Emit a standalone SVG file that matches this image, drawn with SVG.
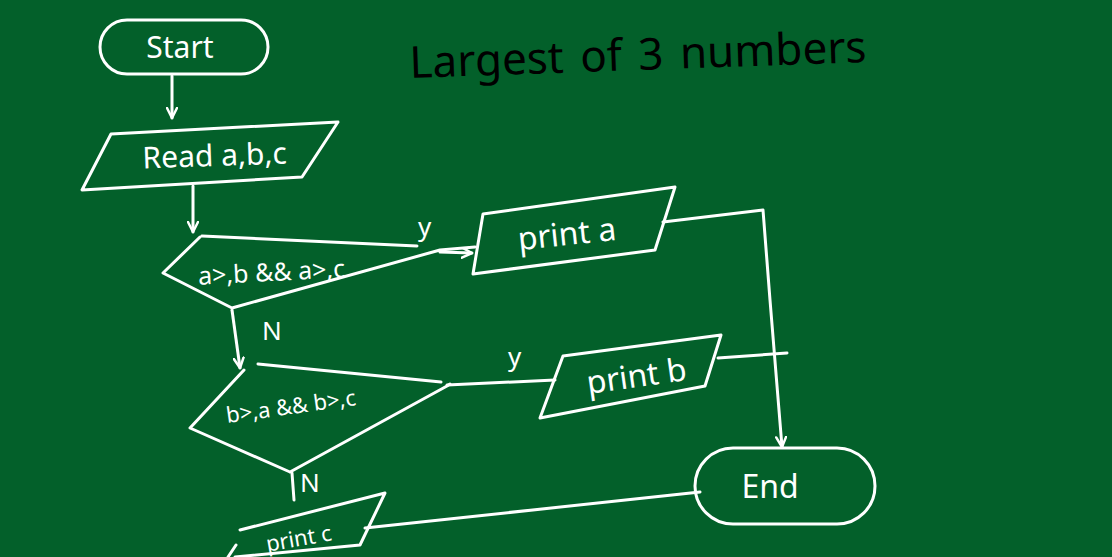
<svg xmlns="http://www.w3.org/2000/svg" width="1112" height="557" viewBox="0 0 1112 557">
<style>
.s{fill:none;stroke:#ffffff;stroke-width:3;stroke-linecap:round;stroke-linejoin:round}
.t{fill:#ffffff;font-family:"Noto Sans","Liberation Sans",sans-serif}
.lbl{fill:#ffffff;font-family:"Noto Sans","Liberation Sans",sans-serif;font-size:26px}
</style>
<defs>
<marker id="ah" viewBox="0 0 12 12" refX="11" refY="6" markerWidth="12" markerHeight="12" markerUnits="userSpaceOnUse" orient="auto">
<path d="M1,1 L11,6 L1,11" fill="none" stroke="#ffffff" stroke-width="2.5" stroke-linecap="round" stroke-linejoin="round"/>
</marker>
</defs>
<rect width="1112" height="557" fill="#03602a"/>
<g id="title">
<text x="410" y="78" font-family="Noto Sans,Liberation Sans,sans-serif" font-size="44" fill="#000000" word-spacing="5" transform="rotate(-2 410 78)">Largest of 3 numbers</text>
</g>
<g id="start">
<rect class="s" x="100" y="20" width="168" height="54" rx="27"/>
<text class="t" x="180" y="58" font-size="30" text-anchor="middle">Start</text>
</g>
<g id="read">
<path class="s" d="M111,134 L338,122 L302,177 L82,190 Z"/>
<text class="t" x="215" y="166" font-size="30" text-anchor="middle" transform="rotate(-2 215 166)">Read a,b,c</text>
</g>
<g id="dec1">
<path class="s" d="M202,236 L417,246 M200,237 L163,273 L232,308 L440,250 L475,247"/>
<text class="t" x="272" y="281" font-size="25" text-anchor="middle" transform="rotate(-3 272 281)">a&gt;,b &amp;&amp; a&gt;,c</text>
</g>
<g id="printa">
<path class="s" d="M483,214 L675,187 L655,250 L473,274 Z"/>
<text class="t" x="568" y="245" font-size="32" text-anchor="middle" transform="rotate(-6 568 245)">print  a</text>
</g>
<g id="dec2">
<path class="s" d="M258,364 L441,382 M244,370 L190,428 L290,472 M290,472 L447,386 L450,384"/>
<text class="t" x="292" y="414" font-size="22" text-anchor="middle" transform="rotate(-8 292 414)">b&gt;,a &amp;&amp; b&gt;,c</text>
</g>
<g id="printb">
<path class="s" d="M563,356 L721,335 L705,386 L540,418 Z"/>
<text class="t" x="638" y="387" font-size="32" text-anchor="middle" transform="rotate(-8 638 387)">print  b</text>
</g>
<g id="printc">
<path class="s" d="M240,530 L385,493 L360,545 L235,557 M236,545 L228,557"/>
<text class="t" x="300" y="546" font-size="22" text-anchor="middle" transform="rotate(-10 300 546)">print c</text>
</g>
<g id="end">
<rect class="s" x="695" y="448" width="180" height="76" rx="38"/>
<text class="t" x="770" y="498" font-size="32" text-anchor="middle">End</text>
</g>
<g id="connectors">
<path class="s" d="M172,76 L172,118" marker-end="url(#ah)"/>
<path class="s" d="M193,186 L193,232" marker-end="url(#ah)"/>
<path class="s" d="M232,310 L240,368" marker-end="url(#ah)"/>
<path class="s" d="M440,252 L472,253" marker-end="url(#ah)"/>
<path class="s" d="M663,222 L763,210 L770,300 L782,447" marker-end="url(#ah)"/>
<path class="s" d="M447,385 L555,380"/>
<path class="s" d="M718,358 L787,353"/>
<path class="s" d="M292,473 L294,500"/>
<path class="s" d="M365,528 L700,492"/>
<text class="lbl" x="418" y="236">y</text>
<text class="lbl" x="262" y="340">N</text>
<text class="lbl" x="508" y="366">y</text>
<text class="lbl" x="300" y="492" font-size="20">N</text>
</g>
</svg>
